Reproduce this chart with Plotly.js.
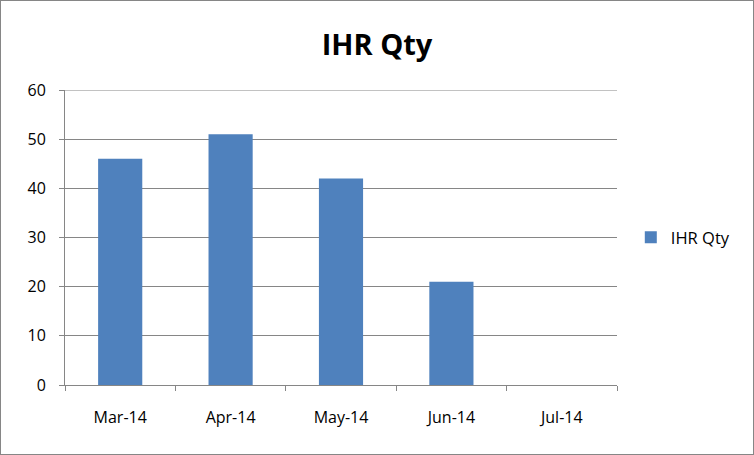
<!DOCTYPE html>
<html>
<head>
<meta charset="utf-8">
<script src="https://cdn.plot.ly/plotly-3.0.1.min.js"></script>
<style>
  html, body { margin: 0; padding: 0; background: #fff; }
  #chart { width: 754px; height: 455px; box-sizing: border-box; border: 1px solid #868686; }
</style>
</head>
<body>
<div id="chart"></div>
<script>
// Monthly IHR quantity
const months = ['Mar-14', 'Apr-14', 'May-14', 'Jun-14', 'Jul-14'];
const ihrQty = [46, 51, 42, 21, null];
const seriesName = 'IHR Qty';
const chartTitle = 'IHR Qty';
const yTicks = [0, 10, 20, 30, 40, 50, 60];

const font = '"Open Sans", "Noto Sans", sans-serif';
const gray = '#868686';

const trace = {
  type: 'bar',
  x: months,
  y: ihrQty,
  name: seriesName,
  marker: { color: '#4F81BD' },
  showlegend: true,
  hoverinfo: 'x+y'
};

const layout = {
  width: 752,
  height: 453,
  margin: { l: 64, r: 136, t: 89, b: 69 },
  paper_bgcolor: '#fff',
  plot_bgcolor: '#fff',
  font: { family: font, size: 16, color: '#000' },
  title: {
    text: '<b>' + chartTitle + '</b>',
    font: { family: font, size: 29, color: '#000' },
    x: 0.5, xanchor: 'center',
    y: 1 - 44 / 453, yref: 'container', yanchor: 'middle'
  },
  bargap: 0.6,
  xaxis: {
    type: 'category',
    showline: true, linecolor: gray, linewidth: 1,
    ticks: 'outside', tickson: 'boundaries', ticklen: 5, tickcolor: gray,
    ticklabelstandoff: 18,
    showgrid: false, zeroline: false,
    tickfont: { family: font, size: 16, color: '#000' }
  },
  yaxis: {
    range: [0, 60],
    tickvals: yTicks,
    showline: true, linecolor: gray, linewidth: 1,
    ticks: 'outside', ticklen: 5, tickcolor: gray,
    ticklabelstandoff: 10,
    showgrid: true, gridcolor: gray, gridwidth: 1,
    zeroline: false,
    tickfont: { family: font, size: 16, color: '#000' }
  },
  // top gridline at the 60 mark sits on the plot edge
  shapes: [{
    type: 'line', xref: 'paper', yref: 'y',
    x0: 0, x1: 1, y0: 60, y1: 60,
    line: { color: gray, width: 1 }
  }],
  legend: {
    x: 1.025, xanchor: 'left',
    y: 0.5, yanchor: 'middle',
    font: { family: font, size: 16.5, color: '#000' },
    itemwidth: 30,
    bgcolor: 'rgba(0,0,0,0)'
  }
};

Plotly.newPlot('chart', [trace], layout, { displayModeBar: false, staticPlot: true });
</script>
</body>
</html>
